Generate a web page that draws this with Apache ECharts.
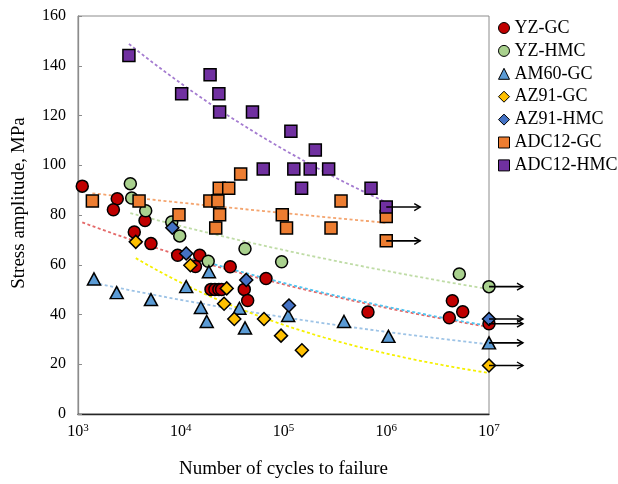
<!DOCTYPE html>
<html>
<head>
<meta charset="utf-8">
<script src="https://cdn.jsdelivr.net/npm/echarts@6/dist/echarts.min.js"></script>
<style>
  html, body { margin: 0; padding: 0; background: #fff; }
  #chart { width: 618px; height: 484px; }
</style>
</head>
<body>
<div id="chart"></div>
<script>
// Fatigue test results: [cycles to failure, stress amplitude (MPa)]
const seriesNames = ['YZ-GC', 'YZ-HMC', 'AM60-GC', 'AZ91-GC', 'AZ91-HMC', 'ADC12-GC', 'ADC12-HMC'];

const yzGC = [[1100, 91.6], [2410, 86.5], [2210, 82.1], [4490, 77.8], [3530, 73.2], [5130, 68.5],
  [9330, 63.8], [15300, 63.8], [13900, 59.3], [30300, 59.2], [67600, 54.5], [19700, 50.1],
  [21500, 50.1], [23500, 50.1], [25000, 50.1], [41500, 50.1], [44800, 45.6], [664000, 41.0],
  [4.40e6, 45.5], [5.55e6, 41.1], [4.11e6, 38.7]];
const yzHMC = [[3230, 92.6], [3330, 86.8], [4560, 81.7], [8170, 77.2], [9770, 71.6], [18500, 61.4],
  [42200, 66.4], [95900, 61.2], [5.14e6, 56.3]];
const am60GC = [[1430, 54.3], [2380, 48.8], [5130, 46.0], [11300, 51.2], [15700, 42.8], [17900, 37.2],
  [18800, 57.2], [37200, 42.5], [42200, 34.6], [111000, 39.6], [388000, 37.2], [1.05e6, 31.2]];
const az91GC = [[3650, 69.2], [12400, 59.8], [28000, 50.5], [26400, 44.3], [33200, 38.2], [64600, 38.2],
  [94600, 31.5], [151000, 25.6]];
const az91HMC = [[8280, 74.9], [11300, 64.5], [43400, 53.9], [113000, 43.6]];
const adc12GC = [[1380, 85.6], [3930, 85.6], [9610, 80.1], [19200, 85.6], [23000, 85.6], [23700, 90.8],
  [29300, 90.8], [38300, 96.5], [23900, 80.1], [21900, 74.8], [97300, 80.1], [107000, 74.8],
  [290000, 74.8], [363000, 85.6], [1.0e6, 79.4]];
const adc12HMC = [[3130, 144.1], [10200, 128.7], [19300, 136.4], [23500, 128.7], [23900, 121.4],
  [49900, 121.4], [118000, 113.7], [204000, 106.1], [63500, 98.5], [126000, 98.5], [182000, 98.5],
  [275000, 98.5], [150000, 90.8], [711000, 90.8]];

// Run-out specimens (no failure), one per material, same order as seriesNames
const runoutCycles = [1e7, 1e7, 1e7, 1e7, 1e7, 1e6, 1e6];
const runoutStress = [36.3, 51.2, 28.6, 19.5, 38.2, 69.6, 83.2];

// Axis ticks
const xTickExponents = [3, 4, 5, 6, 7];
const yTicks = [0, 20, 40, 60, 80, 100, 120, 140, 160];

const failedSets = [yzGC, yzHMC, am60GC, az91GC, az91HMC, adc12GC, adc12HMC];

const markerColors = ['#C00000', '#A9D18E', '#5B9BD5', '#FFC000', '#4472C4', '#ED7D31', '#7030A0'];
const markerShapes = ['circle', 'circle', 'triangle', 'diamond', 'diamond', 'rect', 'rect'];
const markerSizes = [12, 12, [13, 12], 13, 13, 12, 12];
const trendColors = ['#E46A6A', '#BFDCA6', '#9DC3E6', '#F5F000', '#4FC3F0', '#F4A46E', '#A47BD0'];

// Power-law (Basquin) least-squares fit in log-log space, over the tested range
function powerFit(points) {
  const xs = points.map(p => Math.log10(p[0]));
  const ys = points.map(p => Math.log10(p[1]));
  const n = xs.length;
  const mx = xs.reduce((a, b) => a + b, 0) / n;
  const my = ys.reduce((a, b) => a + b, 0) / n;
  let sxy = 0, sxx = 0;
  for (let i = 0; i < n; i++) { sxy += (xs[i] - mx) * (ys[i] - my); sxx += (xs[i] - mx) ** 2; }
  const slope = sxy / sxx;
  const lo = Math.min(...xs), hi = Math.max(...xs);
  const curve = [];
  const steps = 60;
  for (let k = 0; k <= steps; k++) {
    const lx = lo + (hi - lo) * k / steps;
    curve.push([Math.pow(10, lx), Math.pow(10, my + slope * (lx - mx))]);
  }
  return curve;
}

const series = [];
seriesNames.forEach((name, i) => {
  const all = failedSets[i].concat([[runoutCycles[i], runoutStress[i]]]);
  series.push({
    name: name + ' trend',
    type: 'line',
    data: powerFit(all),
    showSymbol: false,
    symbol: 'none',
    silent: true,
    z: 1,
    lineStyle: { color: trendColors[i], width: 1.8, type: [3, 2.5] }
  });
});
seriesNames.forEach((name, i) => {
  series.push({
    name: name,
    type: 'scatter',
    clip: false,
    z: 3 + i,
    symbol: markerShapes[i],
    symbolSize: markerSizes[i],
    itemStyle: { color: markerColors[i], borderColor: '#000', borderWidth: 1.5, opacity: 1 },
    data: failedSets[i].concat([[runoutCycles[i], runoutStress[i]]])
  });
});

// Arrows marking run-outs
series.push({
  name: 'runout',
  type: 'custom',
  z: 20,
  silent: true,
  data: runoutCycles.map((c, i) => [c, runoutStress[i]]),
  renderItem: function (params, api) {
    const p = api.coord([api.value(0), api.value(1)]);
    const L = 34;
    return {
      type: 'group',
      children: [
        { type: 'line', shape: { x1: p[0], y1: p[1], x2: p[0] + L, y2: p[1] },
          style: { stroke: '#000', lineWidth: 1.6 } },
        { type: 'polyline', shape: { points: [[p[0] + L - 6, p[1] - 3.5], [p[0] + L, p[1]], [p[0] + L - 6, p[1] + 3.5]] },
          style: { stroke: '#000', fill: null, lineWidth: 1.4 } }
      ]
    };
  }
});

const chart = echarts.init(document.getElementById('chart'), null, { renderer: 'canvas' });
chart.setOption({
  animation: false,
  backgroundColor: '#fff',
  textStyle: { fontFamily: 'Liberation Serif' },
  grid: { left: 78, top: 16, right: 129, bottom: 67.5, show: true, borderColor: '#8c8c8c', borderWidth: 1 },
  legend: {
    data: seriesNames,
    orient: 'vertical',
    left: 498,
    top: 19,
    padding: 0,
    itemWidth: 11,
    itemHeight: 11,
    itemGap: 4.9,
    itemStyle: { borderWidth: 1 },
    textStyle: { fontFamily: 'Liberation Serif', fontSize: 18, color: '#000', lineHeight: 18 }
  },
  xAxis: {
    type: 'log',
    logBase: 10,
    min: 1000,
    max: 1e7,
    axisLine: { show: true, lineStyle: { color: '#262626', width: 1.3 } },
    axisTick: { show: false },
    splitLine: { show: false },
    minorTick: { show: false },
    axisLabel: {
      margin: 9,
      color: '#000',
      formatter: function (v) {
        const e = Math.round(Math.log10(v));
        return xTickExponents.indexOf(e) >= 0 ? '{b|10}{s|' + e + '}' : '';
      },
      rich: {
        b: { fontFamily: 'Liberation Serif', fontSize: 16, color: '#000', verticalAlign: 'bottom' },
        s: { fontFamily: 'Liberation Serif', fontSize: 11, color: '#000', verticalAlign: 'bottom', padding: [0, 0, 6, 0] }
      }
    },
    name: 'Number of cycles to failure',
    nameLocation: 'middle',
    nameGap: 46,
    nameTextStyle: { fontFamily: 'Liberation Serif', fontSize: 19, color: '#000' }
  },
  yAxis: {
    type: 'value',
    min: yTicks[0],
    max: yTicks[yTicks.length - 1],
    interval: 20,
    axisLine: { show: true, lineStyle: { color: '#8c8c8c', width: 1.3 } },
    axisTick: { show: true, inside: true, length: 4, lineStyle: { color: '#8c8c8c' } },
    splitLine: { show: false },
    axisLabel: { margin: 12, color: '#000', fontFamily: 'Liberation Serif', fontSize: 16 }
  },
  graphic: [{
    type: 'text',
    x: 19,
    y: 203,
    rotation: Math.PI / 2,
    style: {
      text: 'Stress amplitude, MPa',
      fontFamily: 'Liberation Serif',
      fontSize: 19,
      fill: '#000',
      textAlign: 'center',
      textVerticalAlign: 'middle'
    }
  }],
  series: series
});
</script>
</body>
</html>
